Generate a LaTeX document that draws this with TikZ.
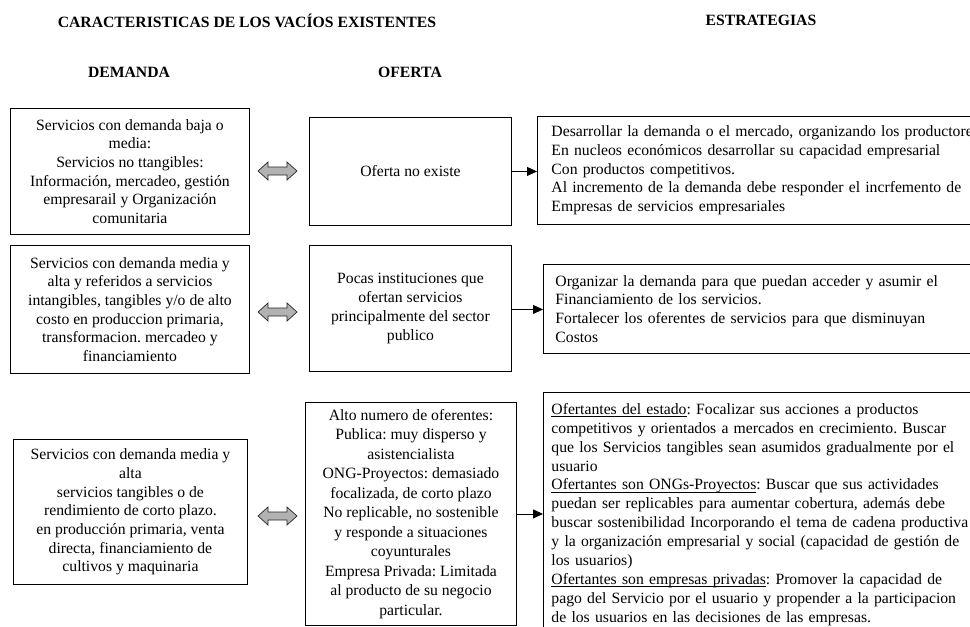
\documentclass[tikz,border=0pt]{standalone}
\usepackage{fontspec}
\setmainfont{Liberation Serif}
\usetikzlibrary{arrows.meta,calc}
\frenchspacing
\newsavebox{\myulbox}
\newcommand\myul[1]{\leavevmode\sbox{\myulbox}{#1}\rlap{\rule[-2.3pt]{\wd\myulbox}{0.7pt}}\usebox{\myulbox}}
\tikzset{
  txt/.style={font=\fontsize{15.7}{18.7}\selectfont},
  head/.style={font=\fontsize{15.7}{18}\selectfont\bfseries, inner sep=0pt},
  cbox/.style={txt, draw=black, line width=0.9pt, inner sep=2pt, align=center, anchor=north west},
  lbox/.style={txt, draw=black, line width=0.9pt, inner ysep=2pt, align=left, anchor=north west},
  link/.style={-{Triangle[length=10pt,width=9pt]}, line width=0.9pt, black},
  dblarr/.pic={\draw[fill=black!30, draw=black!85, line width=0.7pt]
     (-19.5,0) -- (-9.5,-9) -- (-9.5,-4) -- (9.5,-4) -- (9.5,-9) -- (19.5,0)
     -- (9.5,9) -- (9.5,4) -- (-9.5,4) -- (-9.5,9) -- cycle;}
}
\begin{document}
\begin{tikzpicture}[x=1pt,y=-1pt]
\useasboundingbox (0,0) rectangle (970,627);
\fill[white] (0,0) rectangle (970,627);
\clip (0,0) rectangle (970,627);

% headings
\node[head, anchor=base] (h1) at (247,27) {CARACTERISTICAS DE LOS VACÍOS EXISTENTES};
\node[head, anchor=base] (h2) at (761,25) {ESTRATEGIAS};
\node[head, anchor=base] (h3) at (129,77) {DEMANDA};
\node[head, anchor=base] (h4) at (410,77) {OFERTA};

% row 1
\node[cbox, minimum width=239pt, minimum height=126pt] (d1) at (10,108)
 {Servicios con demanda baja o\\ media:\\ Servicios no ttangibles:\\ Información, mercadeo, gestión\\ empresarail y Organización\\ comunitaria};
\node[cbox, minimum width=202pt, minimum height=108pt] (o1) at (309,117)
 {Oferta no existe};
\node[lbox, inner xsep=14pt, text width=430pt, minimum height=108pt] (s1) at (537,116)
 {Desarrollar la demanda o el mercado, organizando los productores\\
  En nucleos económicos desarrollar su capacidad empresarial\\
  Con productos competitivos.\\
  Al incremento de la demanda debe responder el incrfemento de\\
  Empresas de servicios empresariales};

% row 2
\node[cbox, minimum width=239pt, minimum height=128pt] (d2) at (10,245)
 {Servicios con demanda media y\\ alta y referidos a servicios\\ intangibles, tangibles y/o de alto\\ costo en produccion primaria,\\ transformacion. mercadeo y\\ financiamiento};
\node[cbox, minimum width=202pt, minimum height=126pt] (o2) at (309,245)
 {Pocas instituciones que\\ ofertan servicios\\ principalmente del sector\\ publico};
\node[lbox, inner xsep=12pt, text width=420pt, minimum height=89pt] (s2) at (543,264)
 {Organizar la demanda para que puedan acceder y asumir el\\
  Financiamiento de los servicios.\\
  Fortalecer los oferentes de servicios para que disminuyan\\
  Costos};

% row 3
\node[cbox, minimum width=234pt, minimum height=145pt] (d3) at (13,439)
 {Servicios con demanda media y\\ alta\\ servicios tangibles o de\\ rendimiento de corto plazo.\\ en producción primaria, venta\\ directa, financiamiento de\\ cultivos y maquinaria};
\node[cbox, font=\fontsize{15.7}{19.5}\selectfont, minimum width=211pt, minimum height=223pt] (o3) at (305,402)
 {Alto numero de oferentes:\\ Publica: muy disperso y\\ asistencialista\\ ONG-Proyectos: demasiado\\ focalizada, de corto plazo\\ No replicable, no sostenible\\ y responde a situaciones\\ coyunturales\\ Empresa Privada: Limitada\\ al producto de su negocio\\ particular.};
\node[lbox, font=\fontsize{15.7}{18.9}\selectfont, inner xsep=8pt, text width=430pt, minimum height=244pt] (s3) at (543,392)
 {\myul{Ofertantes del estado}: Focalizar sus acciones a productos\\
  competitivos y orientados a mercados en crecimiento. Buscar\\
  que los Servicios tangibles sean asumidos gradualmente por el\\
  usuario\\
  \myul{Ofertantes son ONGs-Proyectos}: Buscar que sus actividades\\
  puedan ser replicables para aumentar cobertura, además debe\\
  buscar sostenibilidad Incorporando el tema de cadena productiva\\
  y la organización empresarial y social (capacidad de gestión de\\
  los usuarios)\\
  \myul{Ofertantes son empresas privadas}: Promover la capacidad de\\
  pago del Servicio por el usuario y propender a la participacion\\
  de los usuarios en las decisiones de las empresas.};

% double arrows between demand and offer
\pic at (277.5,171) {dblarr};
\pic at (277.5,312) {dblarr};
\pic at (277.5,516) {dblarr};

% arrows to strategies
\coordinate (a1) at (o1.east);
\coordinate (a2) at ($(o2.east)+(0,1)$);
\coordinate (a3) at (o3.east);
\draw[link] (a1) -- (a1 -| s1.west);
\draw[link] (a2) -- (a2 -| s2.west);
\draw[link] (a3) -- (a3 -| s3.west);
\end{tikzpicture}
\end{document}
